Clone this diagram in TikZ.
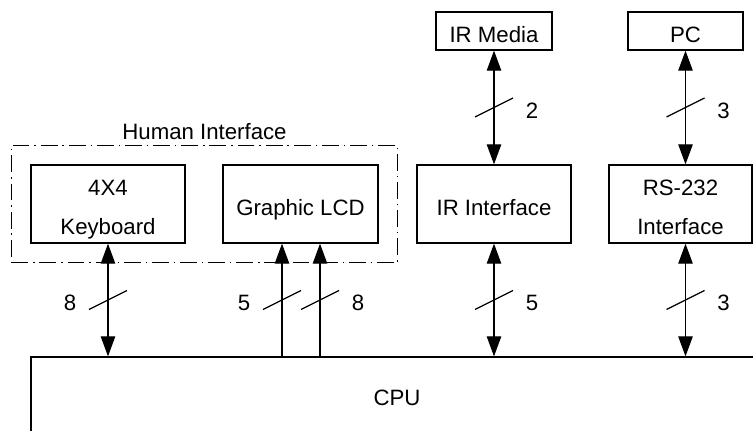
\documentclass[tikz,border=0pt]{standalone}
\usepackage{fontspec}
\setmainfont{Liberation Sans}
\usetikzlibrary{arrows.meta, positioning, calc, fit}
\tikzset{
  every picture/.style={font=\fontsize{15.8pt}{27.6pt}\selectfont, line width=0.9pt},
  blk/.style={draw, align=center, inner sep=0pt, minimum width=#1, minimum height=1.95cm,
    text height=0.58cm, text depth=0pt},
  blk/.default=3.85cm,
  twoline/.style={text height=1.5cm, text depth=0pt},
  group/.style={draw, dash pattern=on 12pt off 3.5pt on 1pt off 3.5pt, inner sep=0.475cm},
  biarrow/.style={{Triangle[length=0.5cm, width=0.36cm]}-{Triangle[length=0.5cm, width=0.36cm]}},
  uparrow/.style={-{Triangle[length=0.5cm, width=0.36cm]}},
  buslbl/.style={inner sep=1pt},
}

\begin{document}
\begin{tikzpicture}[x=0.025cm, y=-0.025cm]
  \useasboundingbox (0,0) rectangle (753,430);
  \clip (0,0) rectangle (753,430);
  \node[blk, twoline] (kbd) at (108,204) {4X4\\Keyboard};
  \node[blk=3.875cm] (lcd) at (300.5,204) {Graphic LCD};
  \node[blk] (irif) at (494,204) {IR Interface};
  \node[blk=3.575cm, twoline] (rs) at (680.5,204) {RS-232\\Interface};
  \node[blk=2.9cm, minimum height=0.95cm] (irm) at (494,31) {IR Media};
  \node[blk=2.875cm, minimum height=0.95cm] (pc) at (685.5,31) {PC};
  \node[draw, minimum width=18.3cm, minimum height=2.05cm] (cpu) at (397,398) {CPU};
  \node[group, fit=(kbd)(lcd)] (hi) {};
  \node[above=0pt of hi] (hilbl) {Human Interface};
  \coordinate (la) at ($(lcd.south)+(-18.5,0)$);
  \coordinate (lb) at ($(lcd.south)+(19.5,0)$);
  \draw[biarrow] (kbd.south) -- coordinate[midway] (b1) (kbd.south |- cpu.north);
  \draw[uparrow] (cpu.north -| la) -- coordinate[midway] (b2) (la);
  \draw[uparrow] (cpu.north -| lb) -- coordinate[midway] (b3) (lb);
  \draw[biarrow] (irif.south) -- coordinate[midway] (b4) (irif.south |- cpu.north);
  \draw[biarrow] (rs.south -| pc.south) -- coordinate[midway] (b5) (cpu.north -| pc.south);
  \draw[biarrow] (irm.south) -- coordinate[midway] (b6) (irif.north);
  \draw[biarrow] (pc.south) -- coordinate[midway] (b7) (pc.south |- rs.north);
  \foreach \m/\s/\t in {b1/-38/8, b2/-38/5, b3/38/8, b4/38/5, b5/38/3, b6/38/2, b7/38/3} {
    \draw (\m) ++(-19,9.5) -- ++(38,-19);
    \node[buslbl] (w\m) at ($(\m)+(\s,3)$) {\t};
  }
\end{tikzpicture}
\end{document}
